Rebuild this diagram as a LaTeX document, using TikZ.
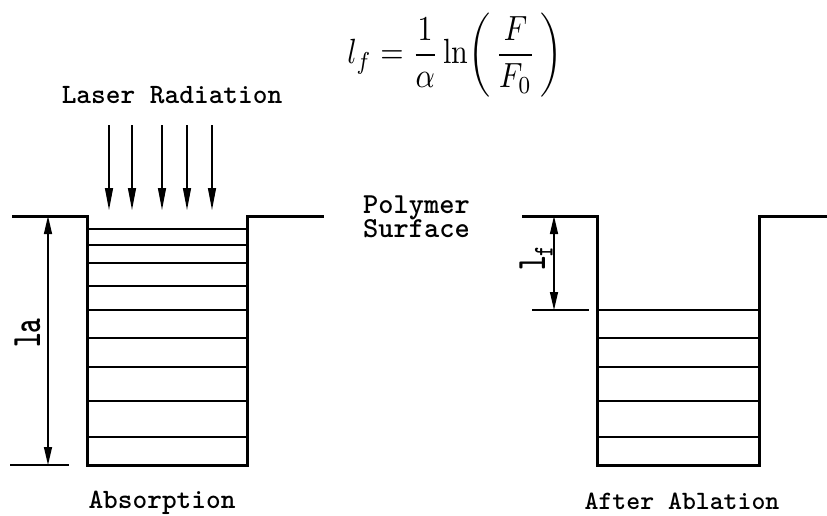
\documentclass[tikz,border=0pt]{standalone}
\usepackage{fontspec}
\usepackage{graphicx}
\usetikzlibrary{arrows.meta}
\begin{document}
\begin{tikzpicture}[x=1pt,y=-1pt,
  wall/.style={line width=3pt,line join=miter},
  layer/.style={line width=1.8pt},
  beam/.style={line width=1.3pt,-{Triangle[length=22pt,width=8pt]}},
  dimline/.style={line width=1.3pt,{Triangle[length=18pt,width=8pt]}-{Triangle[length=18pt,width=8pt]}},
  lbl/.style={font=\ttfamily\bfseries\fontsize{28}{30}\selectfont,inner sep=0pt}]
\useasboundingbox (0,0) rectangle (827,515);
% formula
\node[inner sep=0pt] (formula) at (455,55) {\resizebox*{215pt}{84pt}{$\displaystyle l_f=\frac{1}{\alpha}\ln\!\left(\,\frac{F}{F_0}\,\right)$}};
% laser radiation
\node[lbl] (laser) at (172,95) {Laser Radiation};
\foreach \x [count=\i] in {109,132,162,187,212}{
  \coordinate (b\i) at (\x,125);
  \coordinate (e\i) at (\x,210);
  \draw[beam] (b\i) -- (e\i);
}
% left well
\draw[wall] (12,216) -- (87,216) -- (87,465) -- (247,465) -- (247,216) -- (324,216);
\foreach \y in {229.3,245,262.7,286,310,337.7,367,401,437.3}
  \draw[layer] (87,\y) -- (247,\y);
\draw[layer] (10,465) -- (69,465);
\coordinate (latop) at (48,216);
\coordinate (labot) at (48,465);
\draw[dimline] (latop) -- (labot);
\node[lbl,rotate=90,anchor=base west] (la) at (40,348) {\scalebox{1}[1.5]{la}};
% polymer surface
\node[lbl,font=\ttfamily\bfseries\fontsize{29}{30}\selectfont,anchor=base west] (poly) at (363,213) {Polymer};
\node[lbl,font=\ttfamily\bfseries\fontsize{29}{30}\selectfont,anchor=base west] (surf) at (363,237) {Surface};
% right well
\draw[wall] (522,216) -- (597,216) -- (597,465) -- (759,465) -- (759,216) -- (827,216);
\foreach \y in {310,337.7,367,401,437.3}
  \draw[layer] (597,\y) -- (759,\y);
\draw[layer] (532,310) -- (589,310);
\coordinate (lftop) at (554,216);
\coordinate (lfbot) at (554,310);
\draw[dimline] (lftop) -- (lfbot);
\node[lbl,rotate=90,anchor=base west] (lf) at (545,271) {\scalebox{1}[1.5]{l\raisebox{-5pt}{\fontsize{19}{19}\selectfont f}}};
% captions
\node[lbl,anchor=base] (abs) at (162,508) {Absorption};
\node[lbl,font=\ttfamily\bfseries\fontsize{26.5}{28}\selectfont,anchor=base] (abl) at (682,509) {After Ablation};
\end{tikzpicture}
\end{document}
